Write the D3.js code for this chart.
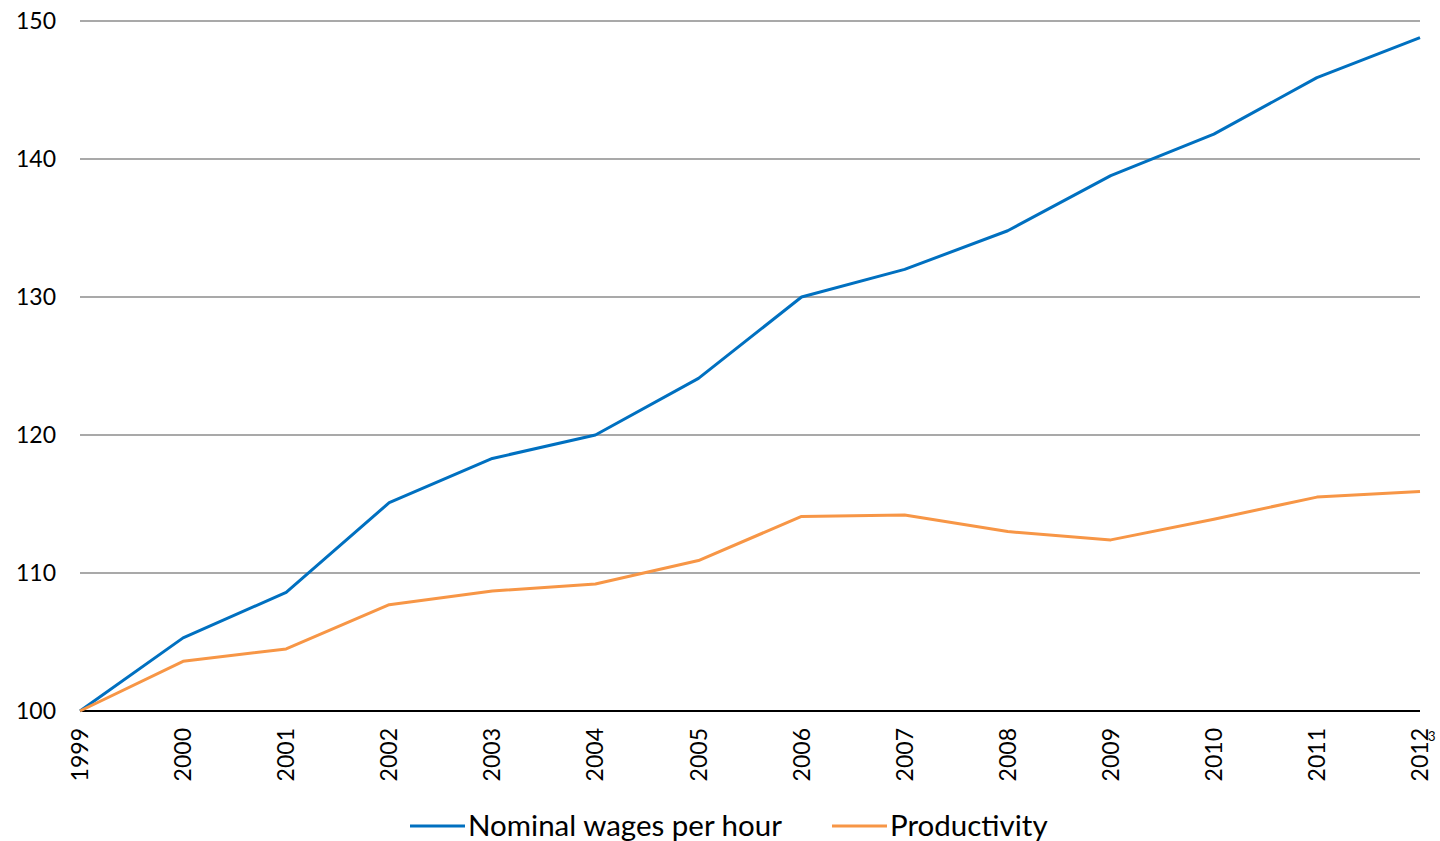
<!DOCTYPE html>
<html>
<head>
<meta charset="utf-8">
<script src="https://cdn.jsdelivr.net/npm/d3@7"></script>
<style>
  body { margin: 0; background: #fff; }
  svg text { font-family: Lato, "Open Sans", sans-serif; fill: #000; }
</style>
</head>
<body>
<svg id="chart" width="1440" height="841"></svg>
<script>
// data
const years = [1999, 2000, 2001, 2002, 2003, 2004, 2005, 2006, 2007, 2008, 2009, 2010, 2011, 2012];
const wages = [100, 105.3, 108.6, 115.1, 118.3, 120.0, 124.1, 130.0, 132.0, 134.8, 138.8, 141.8, 145.9, 148.8];
const productivity = [100, 103.6, 104.5, 107.7, 108.7, 109.2, 110.9, 114.1, 114.2, 113.0, 112.4, 113.9, 115.5, 115.9];
const yTicks = [100, 110, 120, 130, 140, 150];

const svg = d3.select("#chart");

const x = d3.scalePoint().domain(years).range([80, 1420]);
const y = d3.scaleLinear().domain([100, 150]).range([711, 21]);

// gridlines
svg.append("g")
  .selectAll("line")
  .data(yTicks.filter(d => d > 100))
  .join("line")
  .attr("x1", 80).attr("x2", 1420)
  .attr("y1", d => y(d)).attr("y2", d => y(d))
  .attr("stroke", "#8c8c8c").attr("stroke-width", 1.5);

// y labels
svg.append("g")
  .selectAll("text")
  .data(yTicks)
  .join("text")
  .attr("x", 56).attr("y", d => y(d))
  .attr("dy", "0.35em")
  .attr("text-anchor", "end")
  .attr("font-size", 23)
  .text(d => d);

// x axis line
svg.append("line")
  .attr("x1", 80).attr("x2", 1420)
  .attr("y1", y(100)).attr("y2", y(100))
  .attr("stroke", "#000").attr("stroke-width", 2);

// x labels (rotated)
svg.append("g")
  .selectAll("text")
  .data(years)
  .join("text")
  .attr("transform", d => `translate(${x(d)},728) rotate(-90)`)
  .attr("dy", "0.35em")
  .attr("text-anchor", "end")
  .attr("font-size", 23)
  .text(d => d);

// footnote marker on last year
svg.append("text")
  .attr("x", x(2012) + 8).attr("y", 741)
  .attr("font-size", 13)
  .text("3");

const line = d3.line()
  .x((d, i) => x(years[i]))
  .y(d => y(d));

svg.append("path")
  .datum(wages)
  .attr("d", line)
  .attr("fill", "none")
  .attr("stroke", "#0070C0")
  .attr("stroke-width", 3)
  .attr("stroke-linejoin", "round");

svg.append("path")
  .datum(productivity)
  .attr("d", line)
  .attr("fill", "none")
  .attr("stroke", "#F79646")
  .attr("stroke-width", 3)
  .attr("stroke-linejoin", "round");

// legend
const legend = [
  { name: "Nominal wages per hour", color: "#0070C0", x: 410 },
  { name: "Productivity", color: "#F79646", x: 832 }
];
const lg = svg.append("g").selectAll("g").data(legend).join("g")
  .attr("transform", d => `translate(${d.x},826)`);
lg.append("line")
  .attr("x1", 0).attr("x2", 55)
  .attr("stroke", d => d.color).attr("stroke-width", 3);
lg.append("text")
  .attr("x", 58).attr("dy", "0.35em")
  .attr("font-size", 29.5)
  .text(d => d.name);
</script>
</body>
</html>
